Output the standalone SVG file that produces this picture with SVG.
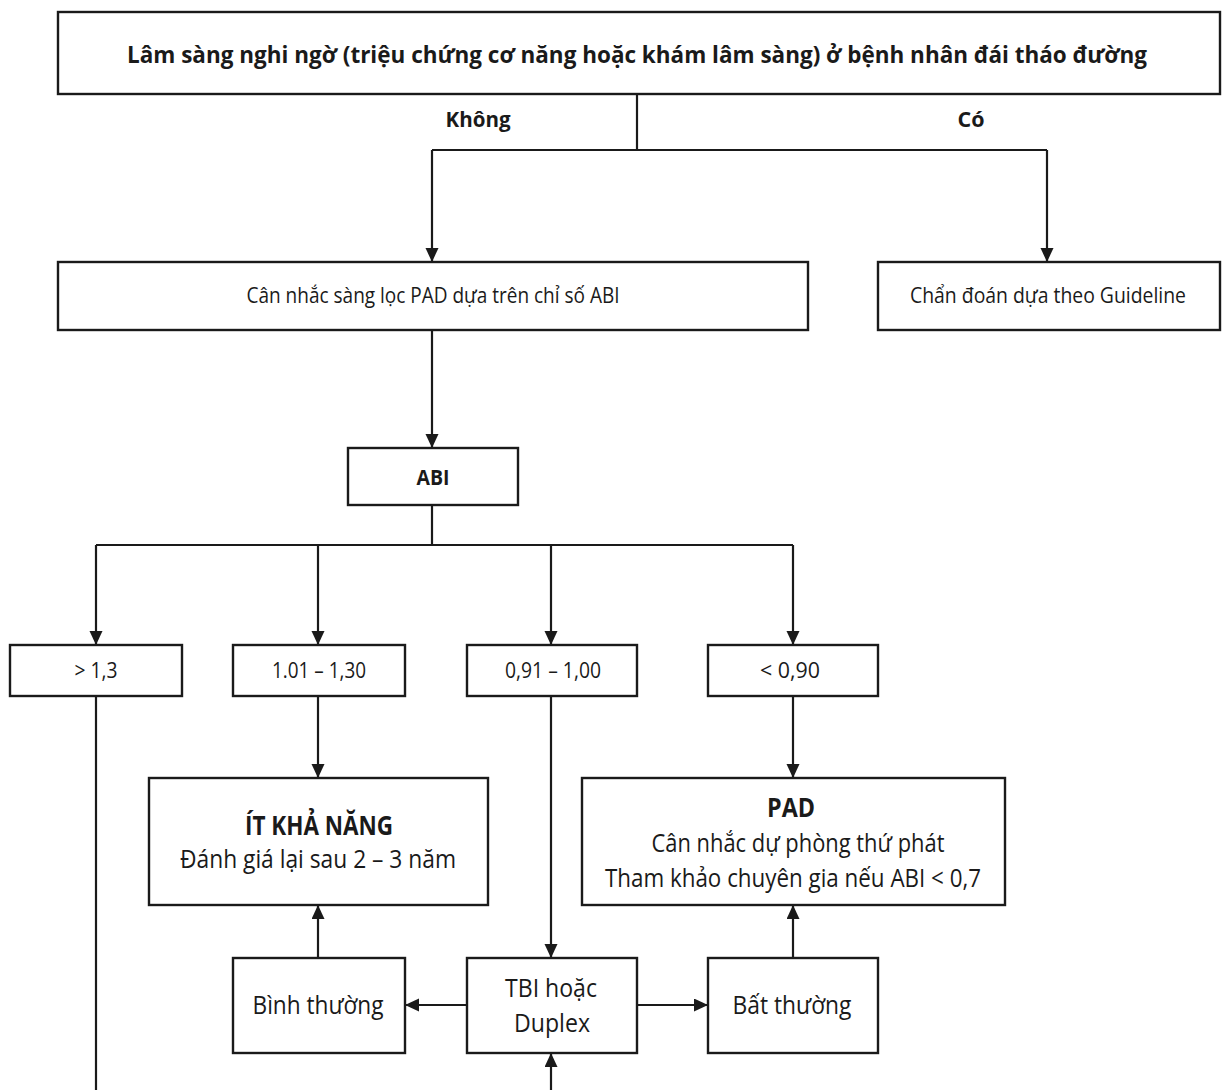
<svg xmlns="http://www.w3.org/2000/svg" width="1222" height="1090" viewBox="0 0 1222 1090">
  <style>
    .box { fill: #ffffff; stroke: #1a1a1a; stroke-width: 2.4; }
    .wire { fill: none; stroke: #1a1a1a; stroke-width: 2.2; }
    text { font-family: "Open Sans", "Noto Sans", "DejaVu Sans", sans-serif; fill: #1a1a1a; text-anchor: middle; }
    .b { font-weight: 700; }
    .s { font-size: 21px; }
    .m { font-size: 26px; }
  </style>
  <defs>
    <marker id="arrow" markerUnits="userSpaceOnUse" markerWidth="14" markerHeight="14" refX="14" refY="6.5" orient="auto">
      <path d="M0,0 L14,6.5 L0,13 Z" fill="#1a1a1a"/>
    </marker>
  </defs>
  <rect width="1222" height="1090" fill="#ffffff"/>

  <!-- connectors -->
  <g id="connectors">
    <path class="wire" d="M637,94 V150"/>
    <path class="wire" d="M432,150 H1047"/>
    <path class="wire" d="M432,150 V262" marker-end="url(#arrow)"/>
    <path class="wire" d="M1047,150 V262" marker-end="url(#arrow)"/>
    <path class="wire" d="M432,330 V448" marker-end="url(#arrow)"/>
    <path class="wire" d="M432,505 V545"/>
    <path class="wire" d="M96,545 H793"/>
    <path class="wire" d="M96,545 V645" marker-end="url(#arrow)"/>
    <path class="wire" d="M318,545 V645" marker-end="url(#arrow)"/>
    <path class="wire" d="M551,545 V645" marker-end="url(#arrow)"/>
    <path class="wire" d="M793,545 V645" marker-end="url(#arrow)"/>
    <path class="wire" d="M96,696 V1090"/>
    <path class="wire" d="M318,696 V778" marker-end="url(#arrow)"/>
    <path class="wire" d="M551,696 V958" marker-end="url(#arrow)"/>
    <path class="wire" d="M793,696 V778" marker-end="url(#arrow)"/>
    <path class="wire" d="M318,958 V905" marker-end="url(#arrow)"/>
    <path class="wire" d="M793,958 V905" marker-end="url(#arrow)"/>
    <path class="wire" d="M467,1005 H405" marker-end="url(#arrow)"/>
    <path class="wire" d="M637,1005 H708" marker-end="url(#arrow)"/>
    <path class="wire" d="M551,1090 V1053" marker-end="url(#arrow)"/>
  </g>

  <!-- branch labels -->
  <g id="labels">
    <text class="b" x="478" y="127" font-size="21" textLength="65" lengthAdjust="spacingAndGlyphs">Không</text>
    <text class="b" x="971" y="127" font-size="21" textLength="27" lengthAdjust="spacingAndGlyphs">Có</text>
  </g>

  <g id="n-start">
    <rect class="box" x="58" y="12" width="1162" height="82"/>
    <text class="b" x="637" y="63" font-size="23" textLength="1020" lengthAdjust="spacingAndGlyphs">Lâm sàng nghi ngờ (triệu chứng cơ năng hoặc khám lâm sàng) ở bệnh nhân đái tháo đường</text>
  </g>

  <g id="n-screen">
    <rect class="box" x="58" y="262" width="750" height="68"/>
    <text class="s" x="433" y="303" textLength="373" lengthAdjust="spacingAndGlyphs">Cân nhắc sàng lọc PAD dựa trên chỉ số ABI</text>
  </g>

  <g id="n-guideline">
    <rect class="box" x="878" y="262" width="342" height="68"/>
    <text class="s" x="1048" y="303" textLength="276" lengthAdjust="spacingAndGlyphs">Chẩn đoán dựa theo Guideline</text>
  </g>

  <g id="n-abi">
    <rect class="box" x="348" y="448" width="170" height="57"/>
    <text class="s b" x="433" y="485" textLength="33" lengthAdjust="spacingAndGlyphs">ABI</text>
  </g>

  <g id="n-gt13">
    <rect class="box" x="10" y="645" width="172" height="51"/>
    <text class="s" x="96" y="678" textLength="43" lengthAdjust="spacingAndGlyphs">&gt; 1,3</text>
  </g>

  <g id="n-101-130">
    <rect class="box" x="233" y="645" width="172" height="51"/>
    <text class="s" x="319" y="678" textLength="94" lengthAdjust="spacingAndGlyphs">1.01 – 1,30</text>
  </g>

  <g id="n-091-100">
    <rect class="box" x="467" y="645" width="170" height="51"/>
    <text class="s" x="553" y="678" textLength="96" lengthAdjust="spacingAndGlyphs">0,91 – 1,00</text>
  </g>

  <g id="n-lt090">
    <rect class="box" x="708" y="645" width="170" height="51"/>
    <text class="s" x="790" y="678" textLength="60" lengthAdjust="spacingAndGlyphs">&lt; 0,90</text>
  </g>

  <g id="n-unlikely">
    <rect class="box" x="149" y="778" width="339" height="127"/>
    <text class="m b" x="319" y="835" textLength="148" lengthAdjust="spacingAndGlyphs">ÍT KHẢ NĂNG</text>
    <text class="m" x="318" y="868" textLength="276" lengthAdjust="spacingAndGlyphs">Đánh giá lại sau 2 – 3 năm</text>
  </g>

  <g id="n-pad">
    <rect class="box" x="582" y="778" width="423" height="127"/>
    <text class="m b" x="791" y="817" textLength="48" lengthAdjust="spacingAndGlyphs">PAD</text>
    <text class="m" x="798" y="852" textLength="293" lengthAdjust="spacingAndGlyphs">Cân nhắc dự phòng thứ phát</text>
    <text class="m" x="793" y="887" textLength="376" lengthAdjust="spacingAndGlyphs">Tham khảo chuyên gia nếu ABI &lt; 0,7</text>
  </g>

  <g id="n-normal">
    <rect class="box" x="233" y="958" width="172" height="95"/>
    <text class="m" x="318" y="1014" textLength="131" lengthAdjust="spacingAndGlyphs">Bình thường</text>
  </g>

  <g id="n-tbi">
    <rect class="box" x="467" y="958" width="170" height="95"/>
    <text class="m" x="551" y="997" textLength="92" lengthAdjust="spacingAndGlyphs">TBI hoặc</text>
    <text class="m" x="552" y="1032" textLength="76" lengthAdjust="spacingAndGlyphs">Duplex</text>
  </g>

  <g id="n-abnormal">
    <rect class="box" x="708" y="958" width="170" height="95"/>
    <text class="m" x="792" y="1014" textLength="119" lengthAdjust="spacingAndGlyphs">Bất thường</text>
  </g>
</svg>
